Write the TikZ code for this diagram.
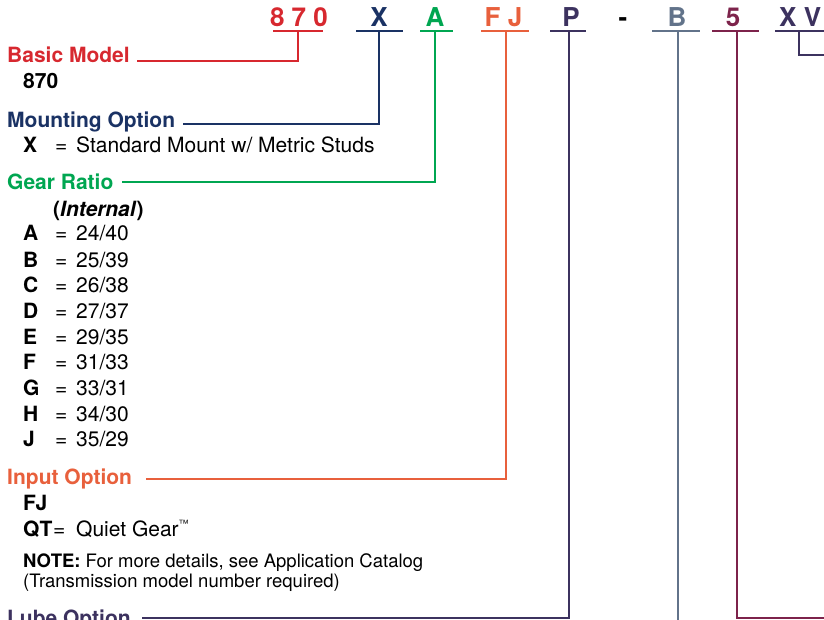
\documentclass[tikz,border=0pt]{standalone}
\usepackage{fontspec}
\setmainfont{TeX Gyre Heros}
\definecolor{cRed}{HTML}{D7282F}
\definecolor{cNavy}{HTML}{1A3264}
\definecolor{cGreen}{HTML}{00A651}
\definecolor{cOrange}{HTML}{E8603C}
\definecolor{cPurple}{HTML}{3C325F}
\definecolor{cSlate}{HTML}{62738A}
\definecolor{cMaroon}{HTML}{7D234B}
\begin{document}
\begin{tikzpicture}[x=1pt,y=-1pt,
  code/.style={font=\fontsize{26}{28}\selectfont\bfseries, anchor=base, inner sep=0pt},
  hdr/.style={font=\fontsize{21}{24}\selectfont\bfseries, anchor=base west, inner sep=0pt},
  body/.style={font=\fontsize{21}{24}\selectfont, anchor=base west, inner sep=0pt},
  keyb/.style={font=\fontsize{21}{24}\selectfont\bfseries, anchor=base west, inner sep=0pt},
  note/.style={font=\fontsize{18.5}{22}\selectfont, anchor=base west, inner sep=0pt},
  lead/.style={line width=2.2pt}]
\useasboundingbox (0,0) rectangle (824,620);
\clip (0,0) rectangle (824,620);

% ---- code letters ----
\node[code,text=cRed]    (k870) at (299,27) {8 7 0};
\node[code,text=cNavy]   (kX)   at (379,27) {X};
\node[code,text=cGreen]  (kA)   at (435,27) {A};
\node[code,text=cOrange] (kFJ)  at (503.5,27) {F J};
\node[code,text=cPurple] (kP)   at (571,27) {P};
\node[code,text=black]   (kDash) at (623,27) {-};
\node[code,text=cSlate]  (kB)   at (677,27) {B};
\node[code,text=cMaroon] (k5)   at (733,27) {5};
\node[code,text=cPurple,anchor=base west] (kXV) at (779,27) {X V};

% ---- underlines ----
\draw[lead,cRed]    (273,31) -- (323,31);
\draw[lead,cNavy]   (356,31) -- (403,31);
\draw[lead,cGreen]  (420,31) -- (453,31);
\draw[lead,cOrange] (481,31) -- (529,31);
\draw[lead,cPurple] (550,31) -- (586,31);
\draw[lead,cSlate]  (652,31) -- (700,31);
\draw[lead,cMaroon] (712,31) -- (759,31);
\draw[lead,cPurple] (775,31) -- (830,31);

% ---- headers and texts ----
\node[hdr,text=cRed]    (hBasic) at (7,63)  {Basic Model};
\node[keyb]             (v870)   at (23,89) {870};
\node[hdr,text=cNavy]   (hMount) at (7,128) {Mounting Option};
\node[keyb]             (mX)     at (23,153) {X};
\node[body]             (mXe)    at (55,153) {=};
\node[body]             (mXv)    at (76,153) {Standard Mount w/ Metric Studs};
\node[hdr,text=cGreen]  (hGear)  at (7,190) {Gear Ratio};
\node[keyb]             (gInt)   at (53,217) {(\textit{Internal})};
\foreach \k/\v/\y in {A/24\slash 40/241, B/25\slash 39/267, C/26\slash 38/292.5, D/27\slash 37/318, E/29\slash 35/344, F/31\slash 33/369.5, G/33\slash 31/395, H/34\slash 30/421, J/35\slash 29/446}{
  \node[keyb] (g\k)  at (23,\y) {\k};
  \node[body] (ge\k) at (55,\y) {=};
  \node[body] (gv\k) at (76,\y) {\v};
}
\node[hdr,text=cOrange] (hInput) at (7,484) {Input Option};
\node[keyb]             (iFJ)    at (23,510) {FJ};
\node[keyb]             (iQT)    at (23,536) {QT};
\node[body]             (iQTe)   at (53,536) {=};
\node[body]             (iQTv)   at (76,536) {Quiet Gear\raisebox{9pt}{\fontsize{10}{10}\selectfont ™}};
\node[note]             (n1)     at (23,567) {\textbf{NOTE:} For more details, see Application Catalog};
\node[note]             (n2)     at (23,587) {(Transmission model number required)};
\node[hdr,text=cPurple] (hLube)  at (7,625) {Lube Option};

% ---- connectors ----
\coordinate (t870) at (298,31);   \coordinate (e870) at (137,61);
\coordinate (tX)   at (379,31);   \coordinate (eX)   at (183,124);
\coordinate (tA)   at (435,31);   \coordinate (eA)   at (122,182);
\coordinate (tFJ)  at (506,31);   \coordinate (eFJ)  at (146,479);
\coordinate (tP)   at (569,31);   \coordinate (eP)   at (142,618);
\coordinate (tB)   at (678,31);   \coordinate (eB)   at (678,630);
\coordinate (t5)   at (737,31);   \coordinate (e5)   at (830,618);
\coordinate (tXV)  at (799,31);   \coordinate (eXV)  at (830,55);

\draw[lead,cRed]    (t870) |- (e870);
\draw[lead,cNavy]   (tX)   |- (eX);
\draw[lead,cGreen]  (tA)   |- (eA);
\draw[lead,cOrange] (tFJ)  |- (eFJ);
\draw[lead,cPurple] (tP)   |- (eP);
\draw[lead,cSlate]  (tB)   -- (eB);
\draw[lead,cMaroon] (t5)   |- (e5);
\draw[lead,cPurple] (tXV)  |- (eXV);
\end{tikzpicture}
\end{document}
